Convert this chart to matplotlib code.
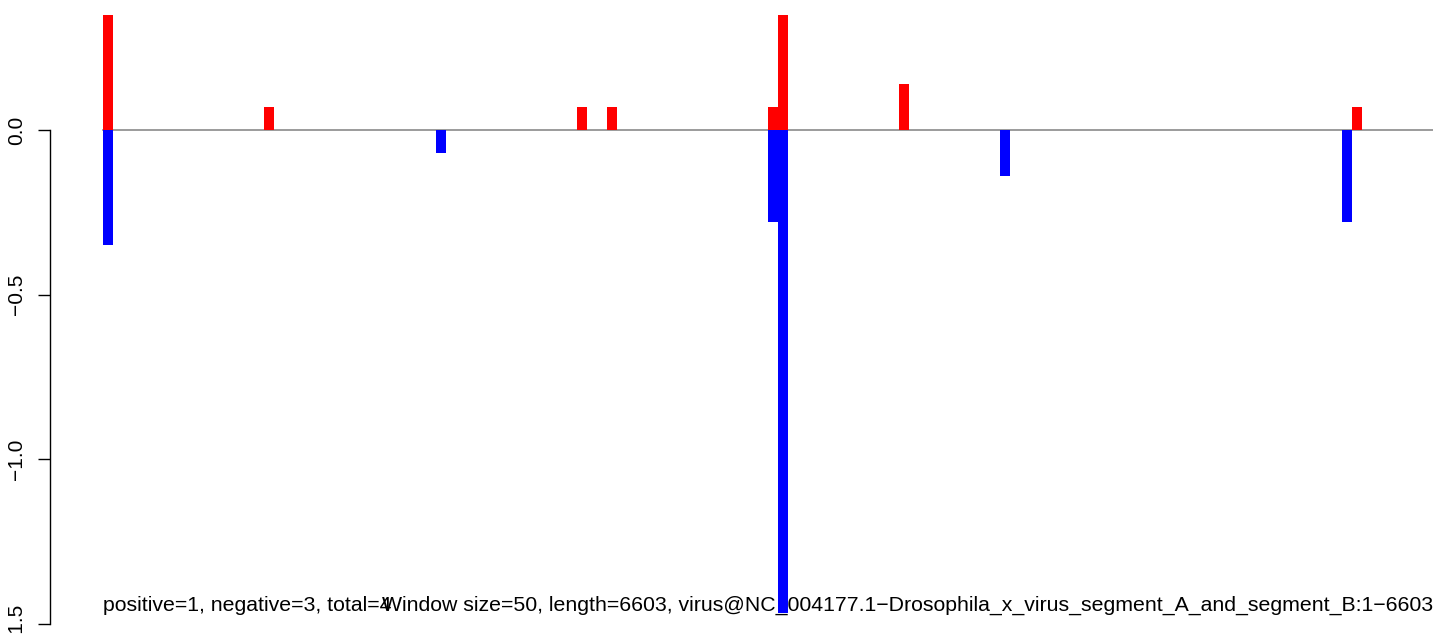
#!/usr/bin/env python
# -*- coding: utf-8 -*-

import numpy as np
from matplotlib import pyplot as plt

plt.rcParams['font.family'] = ['Liberation Sans', 'DejaVu Sans']

n_windows = 132
pos_windows = [0, 16, 47, 50, 66, 67, 79, 124]
pos_values = [0.35, 0.07, 0.07, 0.07, 0.07, 0.35, 0.14, 0.07]
neg_windows = [0, 33, 66, 67, 89, 123]
neg_values = [-0.35, -0.07, -0.28, -1.466, -0.14, -0.28]
y_ticks = [0.0, -0.5, -1.0, -1.5]
y_tick_labels = ['0.0', '\u22120.5', '\u22121.0', '\u22121.5']
stats_text = 'positive=1, negative=3, total=4'
title_text = ('Window size=50, length=6603, virus@NC_004177.1\u2212'
              'Drosophila_x_virus_segment_A_and_segment_B:1\u22126603')


def main():
    W, H = 1444, 634
    fig = plt.figure(figsize=(W / 100, H / 100), dpi=100)
    # plot region in pixels: x 50..1433, y 15..634
    axes = fig.add_axes([50 / W, 0, (1433 - 50) / W, (H - 15) / H])

    px_per_bar = 1330 / n_windows
    px_per_unit = 329.5
    axes.set_xlim(-(103 - 50) / px_per_bar, n_windows)
    axes.set_ylim(-(634 - 130) / px_per_unit, (130 - 15) / px_per_unit)

    axes.plot([0, n_windows], [0, 0], color='#8a8a8a', linewidth=1.2, zorder=1)
    axes.bar(np.array(pos_windows), pos_values, width=1.0, align='edge',
             color='#ff0000', linewidth=0, zorder=2)
    axes.bar(np.array(neg_windows), neg_values, width=1.0, align='edge',
             color='#0000ff', linewidth=0, zorder=2)

    for side in ['top', 'right', 'bottom']:
        axes.spines[side].set_visible(False)
    axes.spines['left'].set_bounds(-1.5, 0.0)
    axes.spines['left'].set_linewidth(1.0)
    axes.set_xticks([])
    axes.set_yticks(y_ticks)
    axes.set_yticklabels(y_tick_labels, rotation=90, va='center', fontsize=15)
    axes.tick_params(axis='y', length=12.5 * 0.72, width=1.0, pad=8)

    y_text = -(611 - 130) / px_per_unit
    axes.text(0, y_text, stats_text, ha='left', va='baseline', fontsize=15.35, zorder=3)
    axes.text(n_windows, y_text, title_text, ha='right', va='baseline', fontsize=15.35, zorder=3)

    fig.savefig('out.png', dpi=100)


if __name__ == '__main__':
    main()
